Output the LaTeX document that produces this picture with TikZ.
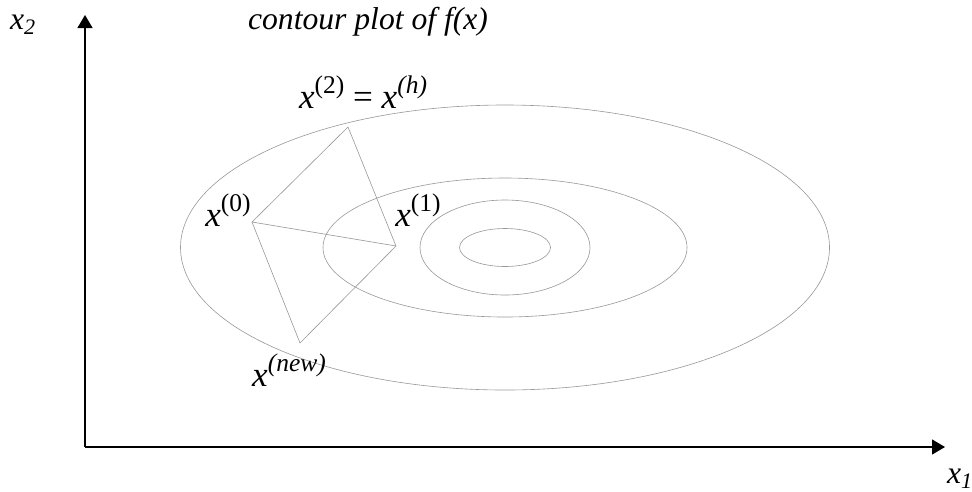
\documentclass[tikz,border=0pt]{standalone}
\usepackage{fontspec}
\setmainfont{Liberation Serif}
\usetikzlibrary{arrows.meta,positioning}
\newcommand{\pexp}[1]{\raisebox{0.42em}{\fontsize{14.5}{15}\selectfont #1}}

\begin{document}
\begin{tikzpicture}[
  x=0.02cm, y=-0.02cm,
  font=\fontsize{18}{21}\selectfont\itshape,
  axis/.style={-{Triangle[length=2.6mm,width=3mm]}, line width=0.7pt},
  contour/.style={draw=gray!80, line width=0.35pt},
  probe/.style={draw=gray!80, line width=0.35pt},
  lbl/.style={inner sep=1pt},
  ptlbl/.style={inner sep=1pt, font=\fontsize{20}{22}\selectfont\itshape}
]
\useasboundingbox (0,0) rectangle (972,491);
% axes
\coordinate (o) at (85,447);
\coordinate (ytip) at (85,15);
\coordinate (xtip) at (945,447);
\draw[axis] (o) -- (ytip);
\draw[axis] (o) -- (xtip);
\node[lbl] (x2lbl) at (23,25) {x\textsubscript{2}};
\node[lbl] (x1lbl) at (960,479) {x\textsubscript{1}};
\node[lbl] (title) at (368,22) {contour plot of f(x)};
% contours
\coordinate (c) at (505,247.5);
\draw[contour] (c) ellipse [x radius=324.5, y radius=142.5];
\draw[contour] (c) ellipse [x radius=182, y radius=69.5];
\draw[contour] (c) ellipse [x radius=85, y radius=47.5];
\draw[contour] (c) ellipse [x radius=45.5, y radius=19];
% points
\coordinate (p0) at (252,222);
\coordinate (p1) at (396,246);
\coordinate (ph) at (348,127);
\coordinate (pn) at (300,343);
\draw[probe] (p0) -- (ph) -- (p1) -- (p0);
\draw[probe] (p0) -- (pn) -- (p1);
\node[ptlbl] (l0) at (228,210) {x\pexp{\upshape(0)}};
\node[ptlbl] (l1) at (418,210) {x\pexp{\upshape(1)}};
\node[ptlbl] (lh) at (363,92) {x\pexp{\upshape(2)}\upshape{} = \itshape x\pexp{(h)}};
\node[ptlbl] (ln) at (289,370) {x\pexp{(new)}};
\end{tikzpicture}
\end{document}
